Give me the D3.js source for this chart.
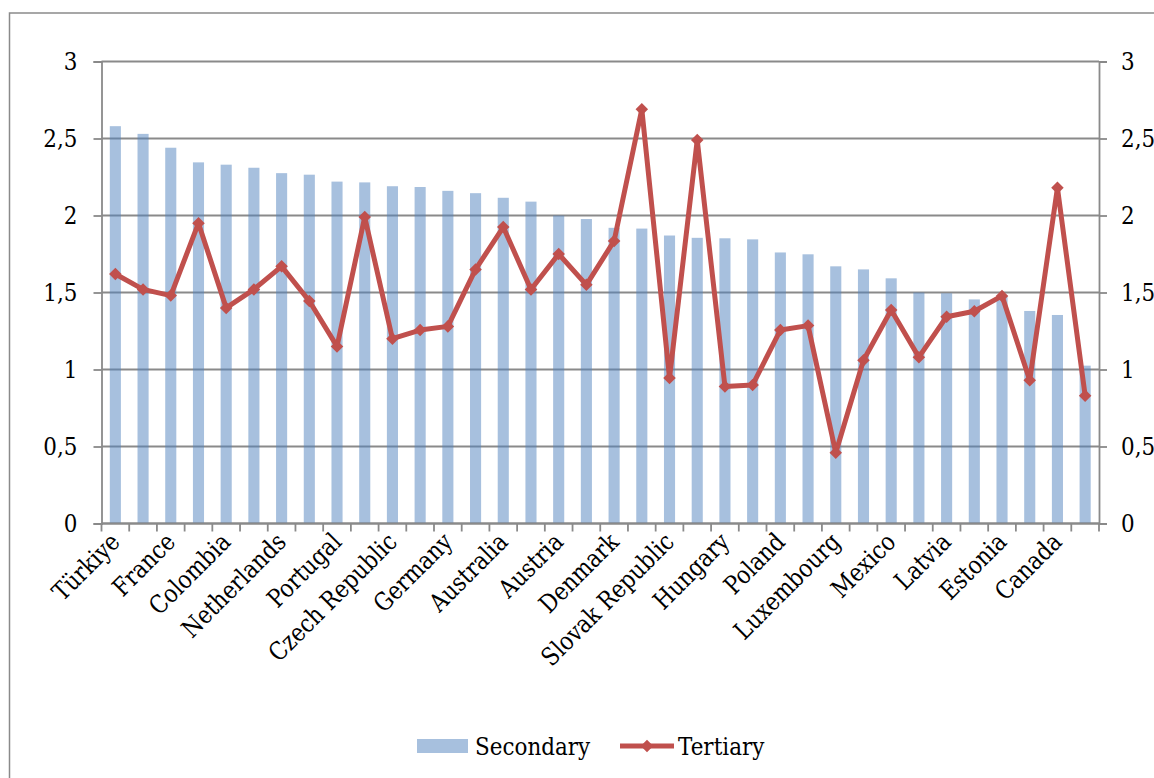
<!DOCTYPE html>
<html>
<head>
<meta charset="utf-8">
<script src="https://cdn.jsdelivr.net/npm/d3@7"></script>
<style>
  html, body { margin: 0; padding: 0; background: #fff; }
  svg { display: block; }
</style>
</head>
<body>
<svg id="chart" width="1154" height="778"></svg>
<script>
// Category labels (only every other country is labelled on the axis)
const categories = [
  "Türkiye", "", "France", "", "Colombia", "", "Netherlands", "", "Portugal", "",
  "Czech Republic", "", "Germany", "", "Australia", "", "Austria", "", "Denmark", "",
  "Slovak Republic", "", "Hungary", "", "Poland", "", "Luxembourg", "", "Mexico", "",
  "Latvia", "", "Estonia", "", "Canada", ""
];

// Secondary (bars)
const secondary = [
  2.58, 2.53, 2.44, 2.345, 2.33, 2.31, 2.275, 2.265, 2.22, 2.215,
  2.19, 2.185, 2.16, 2.145, 2.115, 2.09, 2.00, 1.977, 1.92, 1.915,
  1.87, 1.855, 1.852, 1.845, 1.76, 1.748, 1.67, 1.65, 1.592, 1.50,
  1.495, 1.455, 1.48, 1.38, 1.354, 1.025
];

// Tertiary (line with markers)
const tertiary = [
  1.62, 1.52, 1.48, 1.95, 1.40, 1.52, 1.67, 1.445, 1.15, 1.99,
  1.20, 1.256, 1.28, 1.65, 1.925, 1.52, 1.75, 1.55, 1.835, 2.69,
  0.945, 2.49, 0.89, 0.90, 1.256, 1.285, 0.46, 1.06, 1.386, 1.08,
  1.343, 1.378, 1.478, 0.93, 2.18, 0.83
];

const yTicks = [0, 0.5, 1, 1.5, 2, 2.5, 3];
const seriesNames = ["Secondary", "Tertiary"];

const plot = { left: 101.5, right: 1099, top: 61.5, bottom: 523.5 };
const barColor = "#4F81BD";
const lineColor = "#C0504D";
const gridColor = "#8a8a8a";
const fontFamily = "DejaVu Serif, serif";
const fontSize = 25;
const narrow = 0.86;   // horizontal condensing of the serif face

const svg = d3.select("#chart");

const styleText = sel => sel
  .style("font-family", fontFamily)
  .style("font-size", fontSize + "px")
  .attr("fill", "#000");

// Outer chart frame
svg.append("rect")
  .attr("x", 9.5).attr("y", 13).attr("width", 1160).attr("height", 780)
  .attr("fill", "none").attr("stroke", gridColor).attr("stroke-width", 1.5);

const x = d3.scaleBand()
  .domain(d3.range(categories.length))
  .range([plot.left, plot.right])
  .paddingInner(0.6)
  .paddingOuter(0.3);

const y = d3.scaleLinear().domain([0, 3]).range([plot.bottom, plot.top]);

const fmt = v => String(v).replace(".", ",");

// Horizontal gridlines
svg.append("g")
  .selectAll("line")
  .data(yTicks)
  .join("line")
  .attr("x1", plot.left).attr("x2", plot.right)
  .attr("y1", d => y(d)).attr("y2", d => y(d))
  .attr("stroke", gridColor).attr("stroke-width", 1.8);

// Left and right value axes
const leftAxis = d3.axisLeft(y).tickValues(yTicks).tickFormat(fmt).tickSize(8).tickPadding(16);
const gl = svg.append("g").attr("transform", `translate(${plot.left},0)`).call(leftAxis);
const rightAxis = d3.axisRight(y).tickValues(yTicks).tickFormat(fmt).tickSize(8).tickPadding(14);
const gr = svg.append("g").attr("transform", `translate(${plot.right},0)`).call(rightAxis);

[gl, gr].forEach(g => {
  g.attr("font-family", null).attr("font-size", null);
  g.select(".domain").attr("stroke", gridColor).attr("stroke-width", 1.8);
  g.selectAll(".tick line").attr("stroke", gridColor).attr("stroke-width", 1.8);
  g.selectAll(".tick text").call(styleText).each(function () {
    const tx = +this.getAttribute("x");
    d3.select(this).attr("x", 0).attr("transform", `translate(${tx},0) scale(${narrow},1)`);
  });
});

// Bars
svg.append("g")
  .selectAll("rect")
  .data(secondary)
  .join("rect")
  .attr("x", (d, i) => x(i))
  .attr("width", x.bandwidth())
  .attr("y", d => y(d))
  .attr("height", d => y(0) - y(d))
  .attr("fill", barColor)
  .attr("fill-opacity", 0.5);

// Category axis line with ticks between categories
const gap = x.step() - x.bandwidth();
const bounds = d3.range(categories.length + 1).map(k =>
  k < categories.length ? x(k) - gap / 2 : x(k - 1) + x.bandwidth() + gap / 2);
const gx = svg.append("g");
gx.append("line")
  .attr("x1", plot.left).attr("x2", plot.right)
  .attr("y1", y(0)).attr("y2", y(0))
  .attr("stroke", gridColor).attr("stroke-width", 1.8);
gx.selectAll("line.tk")
  .data(bounds)
  .join("line")
  .attr("class", "tk")
  .attr("x1", d => d).attr("x2", d => d)
  .attr("y1", y(0)).attr("y2", y(0) + 8)
  .attr("stroke", gridColor).attr("stroke-width", 1.8);

// Rotated category labels
svg.append("g")
  .selectAll("text")
  .data(categories.map((c, i) => ({ c, i })).filter(d => d.c))
  .join("text")
  .attr("transform", d => `translate(${x(d.i) + x.bandwidth() / 2 + 6},${y(0) + 20}) rotate(-45) scale(${narrow},1)`)
  .attr("text-anchor", "end")
  .call(styleText)
  .text(d => d.c);

// Tertiary line
const cx = i => x(i) + x.bandwidth() / 2;
const line = d3.line().x((d, i) => cx(i)).y(d => y(d));
svg.append("path")
  .datum(tertiary)
  .attr("d", line)
  .attr("fill", "none")
  .attr("stroke", lineColor)
  .attr("stroke-width", 5)
  .attr("stroke-linejoin", "round");

const diamond = d3.symbol().type(d3.symbolDiamond2).size(100);
svg.append("g")
  .selectAll("path")
  .data(tertiary)
  .join("path")
  .attr("d", diamond)
  .attr("transform", (d, i) => `translate(${cx(i)},${y(d)})`)
  .attr("fill", lineColor);

// Legend
const lg = svg.append("g");
lg.append("rect")
  .attr("x", 417).attr("y", 739).attr("width", 51).attr("height", 14)
  .attr("fill", barColor).attr("fill-opacity", 0.5);
lg.append("text")
  .attr("transform", `translate(475,755) scale(${narrow},1)`)
  .call(styleText)
  .text(seriesNames[0]);
lg.append("line")
  .attr("x1", 620).attr("x2", 674).attr("y1", 746).attr("y2", 746)
  .attr("stroke", lineColor).attr("stroke-width", 5);
lg.append("path")
  .attr("d", diamond)
  .attr("transform", "translate(647,746)")
  .attr("fill", lineColor);
lg.append("text")
  .attr("transform", `translate(678,755) scale(${narrow},1)`)
  .call(styleText)
  .text(seriesNames[1]);
</script>
</body>
</html>
